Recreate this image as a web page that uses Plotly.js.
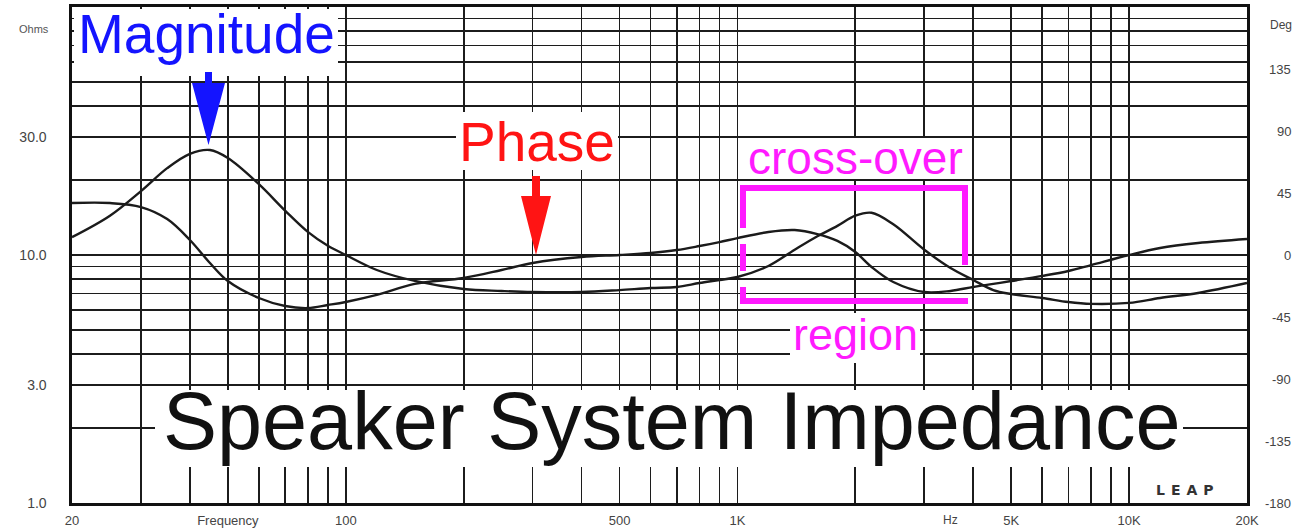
<!DOCTYPE html>
<html><head><meta charset="utf-8">
<script src="https://cdn.plot.ly/plotly-3.0.1.min.js"></script>
<style>html,body{margin:0;padding:0;background:#fff;}#chart{width:1310px;height:531px;}</style>
</head><body><div id="chart"></div>
<script>
// ---- data ----
const freq = [20,25,30,35,40,45,50,60,70,80,90,100,120,150,200,250,300,400,500,600,700,800,900,1000,1200,1400,1600,1800,2000,2200,2500,3000,3500,4000,4500,5000,6000,7000,8000,10000,12000,15000,20000];
const magnitudeOhms = [11.8,14.4,18.1,22.4,25.6,26.5,24.6,19.3,15.1,12.4,10.9,10.0,8.7,7.86,7.29,7.16,7.09,7.09,7.22,7.36,7.43,7.71,7.93,8.15,9.03,10.5,11.9,13.1,14.4,14.8,13.3,10.5,8.86,7.93,7.22,6.96,6.71,6.46,6.35,6.41,6.71,7.03,7.71];
const phaseDeg = [37.7,37.7,34.8,26.1,10.9,-5.8,-18.9,-31.2,-37.0,-38.5,-36.3,-34.1,-29.0,-21.0,-16.7,-10.9,-5.8,-1.5,0,1.5,3.6,6.5,9.4,12.3,16.7,18.1,15.2,10.2,2.2,-8.7,-19.6,-26.9,-26.1,-23.2,-21.0,-18.9,-15.2,-11.6,-7.3,0,5.1,8.7,11.6];

const freqGrid = [20,30,40,50,60,70,80,90,100,200,300,400,500,600,700,800,900,1000,2000,3000,4000,5000,6000,7000,8000,9000,10000,20000];
const freqLabelVals = [20,50,100,500,1000,5000,10000,20000];
const freqLabelText = ['20','Frequency','100','500','1K','5K','10K','20K'];
const ohmGrid = [1,2,3,4,5,6,7,8,9,10,20,30,40,50,60,70,80,90,100];
const ohmLabelVals = [1,3,10,30];
const ohmLabelText = ['1.0','3.0','10.0','30.0'];
const degTicks = [-180,-135,-90,-45,0,45,90,135];
const degTickText = ['-180','-135','-90','-45','0','45','90','135'];

// ---- layout helpers (pixel -> paper) ----
const PL=72, PR=1247, PT=7, PB=503;
const X = p => (p-PL)/(PR-PL);
const Y = p => (PB-p)/(PB-PT);

const xText = freqGrid.map(v => { const i = freqLabelVals.indexOf(v); return i>=0 ? freqLabelText[i] : ''; });
const yText = ohmGrid.map(v => { const i = ohmLabelVals.indexOf(v); return i>=0 ? ohmLabelText[i] : ''; });

const ink = '#1b1b1b';
const traces = [
  {x: freq, y: magnitudeOhms, type:'scatter', mode:'lines', name:'Magnitude',
   line:{color:ink, width:2.4, shape:'spline', smoothing:1}, xaxis:'x', yaxis:'y', hoverinfo:'skip'},
  {x: freq, y: phaseDeg, type:'scatter', mode:'lines', name:'Phase',
   line:{color:ink, width:2.4, shape:'spline', smoothing:1}, xaxis:'x', yaxis:'y2', hoverinfo:'skip'}
];

const white = (x0,y0,x1,y1) => ({type:'rect', xref:'paper', yref:'paper', x0:X(x0), x1:X(x1), y0:Y(y1), y1:Y(y0),
  fillcolor:'#fff', line:{width:0}, layer:'above'});
const mline = (x0,y0,x1,y1) => ({type:'line', xref:'paper', yref:'paper', x0:X(x0), x1:X(x1), y0:Y(y0), y1:Y(y1),
  line:{color:'#ff1aff', width:6}, layer:'above'});
const poly = (pts, color) => ({type:'path', xref:'paper', yref:'paper',
  path: 'M' + pts.map(p => X(p[0]).toFixed(5)+','+Y(p[1]).toFixed(5)).join(' L') + ' Z',
  fillcolor: color, line:{width:0}, layer:'above'});

const shapes = [
  white(PL+2, PT+2, 338, 76),
  white(456, 112, 618, 170),
  white(747, 138, 962, 179),
  white(790, 313, 920, 363),
  white(155, 390, 1183, 467),
  mline(740,188,968,188),
  mline(965,185,965,265),
  mline(740,301,968,301),
  mline(743,185,743,228),
  mline(743,244,743,271),
  mline(743,287,743,304),
  poly([[205,72],[212,72],[212,83],[225,83],[208.5,145],[192,83],[205,83]], '#1414ff'),
  poly([[532,176],[540,176],[540,196],[551,196],[536,255],[521,196],[532,196]], '#ff1414')
];

const lab = (text, xp, yp, size, color, extra) => Object.assign({text, xref:'paper', yref:'paper',
  x:X(xp), y:Y(yp), xanchor:'center', yanchor:'middle', showarrow:false,
  font:{family:'Liberation Sans, Arial, sans-serif', size, color}}, extra||{});

const annotations = [
  lab('Magnitude', 206, 34, 55, '#1414ff'),
  lab('Phase', 537, 142, 55, '#ff1414'),
  lab('cross-over', 855, 158, 46, '#ff1aff'),
  lab('region', 855, 334, 45, '#ff1aff'),
  lab('Speaker System Impedance', 672, 421, 81, '#111'),
  lab('Ohms', 34, 29, 11, '#555'),
  lab('Deg', 1281, 25, 12, '#444'),
  lab('Hz', 950, 520, 12, '#444'),
  lab('<span style="letter-spacing:6px">LEAP</span>', 1188, 490, 14, '#333', {font:{family:'DejaVu Sans, sans-serif', size:14, color:'#333', weight:'bold'}})
];
degTicks.forEach((d,i) => annotations.push({text: degTickText[i], xref:'paper', yref:'y2', x:X(1293), y:d,
  xanchor:'right', yanchor:'middle', showarrow:false, font:{family:'Liberation Sans, Arial, sans-serif', size:13, color:'#444'}}));

const gridStyle = {showgrid:true, gridcolor:'#1c1c1c', gridwidth:1.7, zeroline:false,
  showline:true, linecolor:'#111', linewidth:2.6, mirror:true};

const layout = {
  width:1310, height:531, paper_bgcolor:'#fff', plot_bgcolor:'#fff',
  margin:{l:PL, r:1310-PR, t:PT, b:531-PB, pad:0},
  showlegend:false,
  xaxis: Object.assign({type:'log', range:[Math.log10(20), Math.log10(20000)],
    tickmode:'array', tickvals:freqGrid, ticktext:xText, ticks:'outside', ticklen:4, tickcolor:'rgba(0,0,0,0)',
    tickfont:{family:'Liberation Sans, Arial, sans-serif', size:13, color:'#444'}}, gridStyle),
  yaxis: Object.assign({type:'log', range:[0,2],
    tickmode:'array', tickvals:ohmGrid, ticktext:yText, ticks:'outside', ticklen:20, tickcolor:'rgba(0,0,0,0)',
    tickfont:{family:'Liberation Sans, Arial, sans-serif', size:14, color:'#444'}}, gridStyle),
  yaxis2: {overlaying:'y', side:'right', range:[-180,180], showgrid:false, zeroline:false,
    showticklabels:false, ticks:'', showline:false},
  shapes, annotations
};

Plotly.newPlot('chart', traces, layout, {displayModeBar:false, staticPlot:true});
</script>
</body></html>
